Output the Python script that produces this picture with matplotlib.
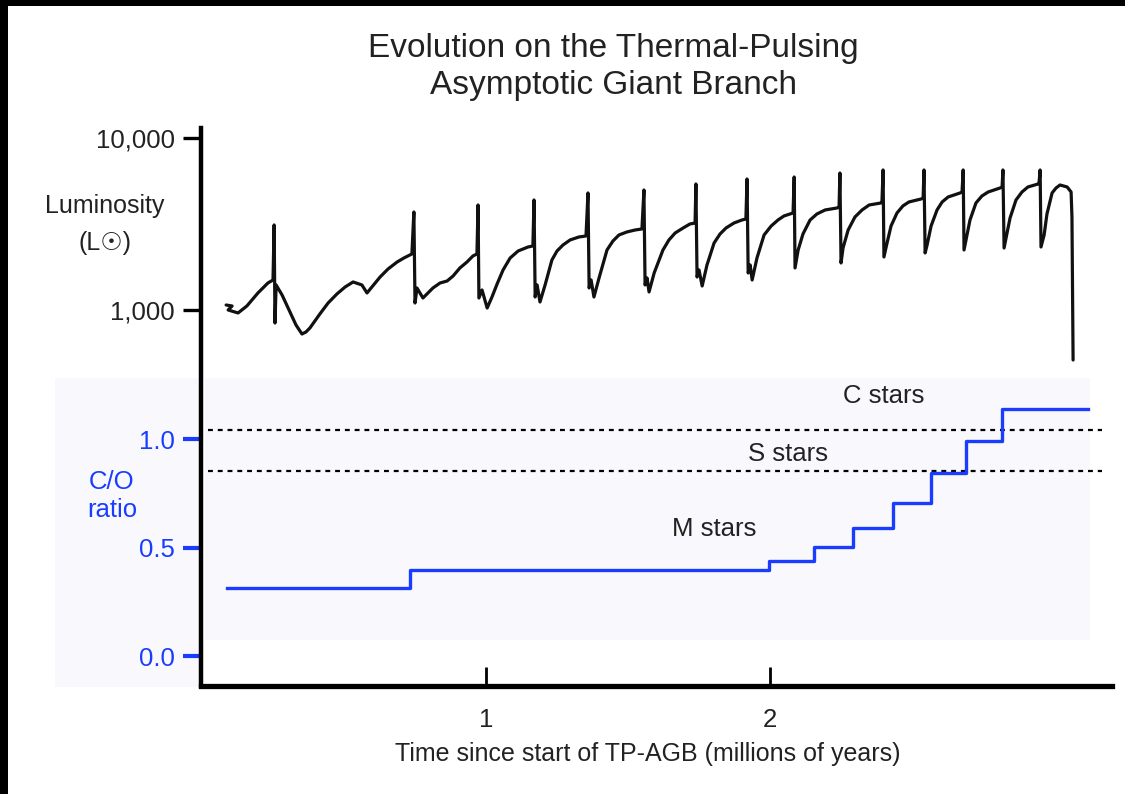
import matplotlib
matplotlib.use("Agg")
import matplotlib.pyplot as plt
from matplotlib.patches import Rectangle
from matplotlib.ticker import NullLocator, FixedLocator, FixedFormatter

# ---------------- data ----------------
lum_time = [0.085, 0.106, 0.092, 0.127, 0.158, 0.197, 0.232, 0.250, 0.254, 0.257,
            0.261, 0.282, 0.310, 0.331, 0.352, 0.366, 0.380, 0.415, 0.444, 0.475,
            0.504, 0.532, 0.563, 0.581, 0.627, 0.655, 0.687, 0.711, 0.732, 0.739,
            0.746, 0.750, 0.757, 0.778, 0.813, 0.838, 0.863, 0.884, 0.908, 0.933,
            0.954, 0.968, 0.972, 0.975, 0.986, 1.004, 1.021, 1.039, 1.060, 1.085,
            1.113, 1.148, 1.165, 1.169, 1.173, 1.180, 1.190, 1.208, 1.232, 1.250,
            1.271, 1.296, 1.327, 1.352, 1.359, 1.363, 1.370, 1.380, 1.398, 1.426,
            1.447, 1.468, 1.496, 1.525, 1.549, 1.556, 1.560, 1.567, 1.574, 1.592,
            1.623, 1.644, 1.666, 1.694, 1.718, 1.736, 1.739, 1.743, 1.750, 1.761,
            1.778, 1.803, 1.824, 1.845, 1.873, 1.901, 1.915, 1.919, 1.923, 1.930,
            1.937, 1.954, 1.979, 2.004, 2.028, 2.049, 2.070, 2.081, 2.085, 2.088,
            2.099, 2.116, 2.141, 2.165, 2.194, 2.236, 2.243, 2.246, 2.250, 2.257,
            2.275, 2.299, 2.324, 2.349, 2.391, 2.394, 2.398, 2.401, 2.412, 2.426,
            2.447, 2.468, 2.489, 2.532, 2.539, 2.542, 2.546, 2.553, 2.567, 2.588,
            2.606, 2.627, 2.669, 2.676, 2.680, 2.683, 2.690, 2.704, 2.725, 2.746,
            2.768, 2.810, 2.817, 2.820, 2.824, 2.831, 2.845, 2.866, 2.887, 2.908,
            2.944, 2.947, 2.951, 2.954, 2.965, 2.975, 2.993, 3.007, 3.021, 3.046,
            3.060, 3.063, 3.067]
lum_value = [1069, 1055, 1000, 961, 1055, 1256, 1435, 1494, 3121, 840,
             1398, 1222, 973, 818, 725, 745, 786, 948, 1098, 1239,
             1361, 1455, 1398, 1256, 1555, 1731, 1901, 2006, 2088, 2117,
             3713, 1098, 1342, 1174, 1342, 1435, 1474, 1576, 1755, 1901,
             2061, 2117, 4078, 1174, 1307, 1027, 1190, 1416, 1708, 2006,
             2203, 2324, 2356, 4360, 1190, 1398, 1113, 1398, 1953, 2203,
             2387, 2553, 2657, 2693, 4789, 1342, 1494, 1190, 1535, 2233,
             2519, 2729, 2842, 2918, 2958, 4985, 1398, 1535, 1273, 1641,
             2233, 2553, 2804, 2997, 3162, 3204, 5402, 1555, 1708, 1379,
             1827, 2452, 2767, 2997, 3204, 3335, 3380, 5774, 1641, 1827,
             1494, 2006, 2729, 3078, 3335, 3520, 3615, 3664, 5931, 1755,
             2233, 2767, 3335, 3615, 3815, 3918, 3971, 6257, 1876, 2293,
             2918, 3473, 3815, 4078, 4190, 4246, 6516, 2033, 2452, 3078,
             3664, 4029, 4246, 4419, 4479, 6516, 2145, 2387, 3078, 3815,
             4246, 4539, 4789, 4853, 6516, 2233, 2553, 3335, 4190, 4600,
             4853, 5121, 5190, 6516, 2293, 2623, 3425, 4360, 4853, 5190,
             5402, 5474, 6516, 2324, 2729, 3615, 4789, 5121, 5330, 5190,
             4853, 3473, 512]

co_time = [0.088, 0.732, 1.996, 2.155, 2.292, 2.433, 2.567, 2.690, 2.817, 3.120]
co_ratio = [0.315, 0.396, 0.438, 0.502, 0.590, 0.705, 0.843, 0.991, 1.138, 1.138]

boundary_values = [1.04, 0.853]          # C/S and S/M star borders
region_labels = ["C stars", "S stars", "M stars"]
region_label_x = [2.40, 2.063, 1.803]
region_label_y = [1.166, 0.899, 0.553]

x_ticks = [1, 2]
x_tick_labels = ["1", "2"]
lum_ticks = [1000, 10000]
lum_tick_labels = ["1,000", "10,000"]
co_ticks = [0.0, 0.5, 1.0]
co_tick_labels = ["0.0", "0.5", "1.0"]

title_lines = ["Evolution on the Thermal-Pulsing", "Asymptotic Giant Branch"]
x_label = "Time since start of TP-AGB (millions of years)"
lum_label = ["Luminosity", "(L\u2609)"]
co_label = ["C/O", "ratio"]

# ---------------- styling ----------------
W, H = 1125, 794
BLUE = "#1a3cff"
TXT = "#222222"
FAM = ["Liberation Sans", "DejaVu Sans"]
plt.rcParams["font.family"] = FAM

def fx(px):
    return px / W

def fy(py):
    return 1 - py / H

fig = plt.figure(figsize=(W / 100, H / 100), dpi=100)
fig.patch.set_facecolor("white")

# faint shaded panels behind the C/O part
fig.patches.append(Rectangle((fx(55), fy(687)), fx(201) - fx(55), fy(378) - fy(687),
                             transform=fig.transFigure, facecolor="#f9f9fd",
                             edgecolor="none", zorder=-2))
fig.patches.append(Rectangle((fx(205), fy(640)), fx(1090) - fx(205), fy(378) - fy(640),
                             transform=fig.transFigure, facecolor="#f9f9fd",
                             edgecolor="none", zorder=-2))
# black frame edges of the picture
fig.patches.append(Rectangle((0, fy(6)), 1, fy(0) - fy(6), transform=fig.transFigure,
                             facecolor="black", edgecolor="none", zorder=10))
fig.patches.append(Rectangle((0, 0), fx(8), 1, transform=fig.transFigure,
                             facecolor="black", edgecolor="none", zorder=10))

left, right, top, bottom = 201, 1112, 128, 686
ax = fig.add_axes([fx(left), fy(bottom), fx(right) - fx(left), fy(top) - fy(bottom)])
ax.set_facecolor("none")
ax.set_xlim(-0.0035, 3.204)
ax.set_ylim(-0.138, 2.433)

ax2 = ax.twinx()
ax2.set_yscale("log")
ax2.set_ylim(10 ** 0.814, 10 ** 4.058)
ax2.patch.set_visible(False)

# luminosity curve
ax2.plot(lum_time, lum_value, color="#111111", lw=2.3, solid_joinstyle="round",
         solid_capstyle="round", zorder=3)

# C/O ratio steps
ax.plot(co_time, co_ratio, drawstyle="steps-post", color=BLUE, lw=2.4, zorder=3)

# boundaries
for b in boundary_values:
    ax.plot([0.021, 3.169], [b, b], color="black", lw=1.6, ls=(0, (2.2, 2.2)), zorder=2)

for lab, xx, yy in zip(region_labels, region_label_x, region_label_y):
    ax.text(xx, yy, lab, ha="center", va="baseline", fontsize=18.5, color=TXT)

# spines
for s in ["top", "right"]:
    ax.spines[s].set_visible(False)
for s in ax2.spines.values():
    s.set_visible(False)
ax.spines["left"].set_linewidth(3.2)
ax.spines["bottom"].set_linewidth(3.8)
ax.spines["left"].set_color("black")
ax.spines["bottom"].set_color("black")

# x axis
ax.set_xticks(x_ticks)
ax.set_xticklabels(x_tick_labels)
ax.tick_params(axis="x", direction="in", length=14, width=2, pad=16,
               labelsize=18.5, labelcolor=TXT, color="black")

# C/O axis (blue ticks)
ax.yaxis.tick_left()
ax.set_yticks(co_ticks)
ax.set_yticklabels(co_tick_labels)
ax.tick_params(axis="y", direction="out", length=13, width=3, pad=6,
               labelsize=18.5, colors=BLUE)

# Luminosity axis on the left too
ax2.yaxis.tick_left()
ax2.yaxis.set_major_locator(FixedLocator(lum_ticks))
ax2.yaxis.set_major_formatter(FixedFormatter(lum_tick_labels))
ax2.yaxis.set_minor_locator(NullLocator())
ax2.tick_params(axis="y", direction="out", length=13, width=2.4, pad=6,
                labelsize=18.5, colors="black", labelcolor=TXT)

# texts
fig.text(fx(613), fy(57), title_lines[0], ha="center", va="baseline", fontsize=24, color=TXT)
fig.text(fx(613), fy(94), title_lines[1], ha="center", va="baseline", fontsize=24, color=TXT)
fig.text(fx(648), fy(761), x_label, ha="center", va="baseline", fontsize=18, color=TXT)
fig.text(fx(105), fy(213), lum_label[0], ha="center", va="baseline", fontsize=18, color=TXT)
fig.text(fx(105), fy(250), lum_label[1], ha="center", va="baseline", fontsize=18, color=TXT,
         family=["Liberation Sans", "DejaVu Sans"])
fig.text(fx(112), fy(489), co_label[0], ha="center", va="baseline", fontsize=18.5, color=BLUE)
fig.text(fx(112), fy(517), co_label[1], ha="center", va="baseline", fontsize=18.5, color=BLUE)

fig.savefig("out.png", dpi=100, facecolor=fig.get_facecolor())
